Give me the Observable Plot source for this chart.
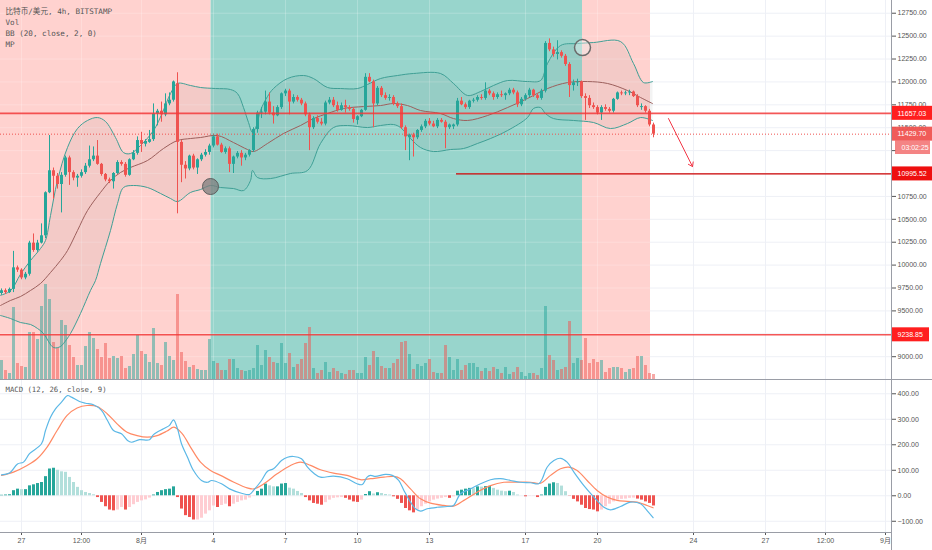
<!DOCTYPE html>
<html><head><meta charset="utf-8">
<script src="https://cdn.jsdelivr.net/npm/d3@7"></script>
<script src="https://cdn.jsdelivr.net/npm/@observablehq/plot@0.6"></script>
<style>
body{margin:0;background:#fff;width:932px;height:550px;overflow:hidden;position:relative;}
#main,#macd{position:absolute;left:0;}
#main{top:0}
#macd{top:379px}
.ln{position:absolute;background:#9a9da6}
</style></head><body>
<div id="main"></div><div id="macd"></div>
<div class="ln" style="left:0;top:379px;width:932px;height:1px"></div>
<div class="ln" style="left:0;top:532px;width:891px;height:1px"></div>
<div class="ln" style="left:891px;top:0;width:1px;height:550px"></div>
<script>
// ---------- data (4h candles, index 0 = 26 Jul 04:00) ----------
const ohlc = [
[9690,9740,9670,9720],[9720,9740,9680,9700],[9700,9750,9690,9735],[9735,10150,9700,9970],[9970,9990,9920,9945],
[9945,9960,9840,9860],[9860,9920,9840,9900],[9900,10260,9880,10240],[10240,10340,10140,10160],[10160,10270,10140,10240],
[10240,10450,10230,10320],[10320,10800,10290,10790],[10790,11415,10780,11030],[11030,11060,10720,10970],[10970,11000,10830,10880],
[10880,11010,10570,10980],[10980,11190,10960,11170],[11170,11190,10870,11010],[11010,11030,10920,10950],[10950,10990,10850,10970],
[10970,11040,10950,11010],[11010,11110,10990,11080],[11080,11300,11060,11150],[11150,11290,11130,11190],[11190,11360,11090,11100],
[11100,11110,10970,10990],[10990,11000,10910,10930],[10930,10950,10890,10910],[10910,11010,10830,11000],[11000,11140,10990,11120],
[11120,11140,11080,11100],[11100,11120,10960,10980],[10980,11160,10970,11150],[11150,11250,11140,11220],[11220,11400,11200,11360],
[11360,11450,11230,11320],[11320,11370,11290,11350],[11340,11470,11330,11370],[11370,11760,11350,11650],[11650,11700,11520,11680],
[11680,11780,11560,11640],[11640,11870,11620,11760],[11760,11880,11740,11800],[11800,12010,11780,12000],[11980,12100,10560,11340],
[11340,11360,10900,11090],[11090,11130,10940,11050],[11050,11200,11030,11190],[11190,11210,11040,11060],[11060,11160,10990,11150],
[11150,11220,11130,11200],[11200,11260,11180,11230],[11230,11320,11200,11300],[11300,11430,11280,11400],[11400,11430,11300,11310],
[11310,11330,11220,11230],[11230,11290,11210,11270],[11270,11290,11010,11100],[11100,11190,11000,11180],[11180,11240,11160,11220],
[11220,11250,11080,11170],[11170,11220,11140,11200],[11200,11260,11180,11250],[11250,11500,11230,11480],[11480,11680,11440,11660],
[11660,11720,11600,11670],[11670,11900,11640,11780],[11780,11880,11640,11660],[11660,11730,11540,11630],[11630,11740,11620,11720],
[11720,11880,11700,11870],[11870,11920,11840,11900],[11900,11920,11640,11780],[11780,11860,11760,11830],[11830,11850,11780,11800],
[11800,11820,11740,11760],[11760,11780,11620,11640],[11640,11660,11250,11500],[11500,11620,11480,11600],[11600,11630,11540,11560],
[11560,11600,11520,11540],[11540,11790,11520,11770],[11770,11830,11750,11800],[11800,11830,11720,11740],[11740,11780,11670,11690],
[11690,11770,11680,11740],[11740,11800,11660,11720],[11720,11740,11680,11700],[11700,11720,11550,11590],[11580,11630,11530,11620],
[11620,11700,11610,11690],[11690,12090,11680,12050],[12050,12090,11990,12000],[12000,12020,11500,11760],[11760,11950,11740,11930],
[11930,11950,11830,11850],[11850,11880,11800,11820],[11820,11860,11790,11830],[11830,11850,11740,11760],[11760,11780,11710,11730],
[11730,11760,11480,11500],[11500,11520,11250,11400],[11390,11430,11140,11420],[11420,11440,11180,11390],[11390,11480,11370,11470],
[11470,11530,11450,11510],[11510,11590,11490,11570],[11570,11600,11520,11540],[11540,11570,11500,11510],[11510,11600,11490,11580],
[11580,11600,11550,11560],[11560,11580,11270,11500],[11500,11540,11480,11530],[11510,11540,11480,11530],[11530,11820,11510,11790],
[11790,11830,11740,11750],[11750,11770,11700,11720],[11720,11800,11700,11790],[11790,11820,11770,11800],[11800,11850,11780,11830],
[11830,11860,11800,11820],[11820,11990,11800,11900],[11900,11920,11850,11870],[11870,11890,11800,11830],[11830,11880,11810,11860],
[11860,11900,11830,11850],[11850,11880,11800,11870],[11870,11930,11850,11910],[11910,11930,11860,11880],[11880,11900,11720,11750],
[11750,11830,11730,11810],[11810,11870,11790,11850],[11850,11930,11830,11910],[11910,11920,11830,11850],[11850,11870,11800,11820],
[11820,11920,11800,11900],[11900,12440,11880,12420],[12420,12470,12330,12350],[12350,12380,12270,12300],[12300,12450,12240,12320],
[12320,12340,12260,12280],[12280,12300,12170,12190],[12190,12210,11830,11960],[11960,12020,11900,11990],[11990,12030,11950,12000],
[12000,12010,11820,11840],[11840,11870,11580,11820],[11820,11850,11710,11740],[11740,11770,11700,11720],[11720,11740,11640,11660],
[11660,11740,11580,11720],[11720,11750,11680,11700],[11700,11720,11660,11680],[11680,11820,11660,11810],[11810,11890,11800,11880],
[11880,11900,11850,11870],[11870,11900,11850,11880],[11880,11910,11850,11890],[11890,11900,11830,11840],[11840,11860,11720,11740],
[11720,11760,11690,11730],[11730,11740,11660,11680],[11680,11700,11510,11530],[11530,11550,11390,11429.7]
];
const volumes = [19,9,6,72,16,13,12,47,47,40,73,95,80,37,31,59,54,34,22,14,14,33,47,41,30,22,36,21,23,21,23,11,13,25,44,28,25,17,51,16,14,37,23,19,85,27,18,12,14,10,9,9,40,18,16,9,9,20,20,11,9,8,9,11,34,14,29,22,17,16,36,16,26,12,15,20,36,52,11,6,9,17,7,11,8,6,5,9,9,6,6,22,14,28,22,13,11,11,16,20,37,38,25,10,15,13,16,20,7,6,6,34,22,9,20,9,14,16,16,12,8,11,8,12,10,6,12,5,7,12,7,3,6,6,4,11,73,24,19,9,10,12,58,16,21,19,41,16,20,17,19,7,11,12,12,11,7,10,11,23,23,14,6,5];
const histogram = [2,3,4,20,26,24,24,39,43,48,52,75,105,108,100,94,92,72,52,33,20,13,9,4,-7,-26,-43,-56,-59,-56,-46,-56,-46,-35,-26,-20,-16,-9,3,13,20,24,26,35,-7,-52,-78,-85,-95,-95,-88,-72,-59,-40,-46,-38,-33,-43,-33,-26,-20,-17,-9,-1,17,26,46,39,35,35,46,48,30,26,17,9,-7,-20,-30,-33,-37,-27,-17,-10,-8,-7,-10,-17,-24,-26,-17,5,16,7,12,9,5,3,-4,-14,-30,-50,-59,-67,-56,-43,-33,-24,-17,-13,-10,-7,-10,-4,18,22,26,29,28,35,34,36,37,29,22,18,16,18,13,3,0,-4,-1,-1,-7,3,33,46,51,48,38,16,-1,-14,-24,-37,-50,-54,-56,-63,-56,-43,-33,-24,-17,-14,-13,-10,-9,-13,-17,-24,-30,-40];
const macdLine = [[0,82],[2,89],[4,125],[5.5,132],[7,165],[10,204],[11,256],[12.25,308],[13.5,341],[15,367],[16.5,393],[17.5,387],[19.5,370],[21,363],[23,357],[25,335],[26.5,295],[28,256],[30,243],[31.5,217],[32.5,210],[34.5,220],[37,220],[38,240],[40.5,263],[42,276],[43,298],[44,263],[45,204],[46.5,151],[48,99],[50,60],[51.5,53],[52.5,60],[55,47],[57,27],[60,10],[62,5],[63,21],[65,60],[66.5,96],[68,106],[70,138],[71.5,151],[73,154],[75,145],[76.5,112],[78,89],[79.75,73],[83,77],[86.4,67],[88.9,47],[90.2,44],[91.4,73],[92.25,80],[93.5,76],[96,84],[97.7,80],[99.3,60],[100.6,21],[102.25,-25],[103.5,-51],[104.75,-60],[106.4,-51],[108.9,-45],[111.4,-42],[113,-38],[114.75,8],[117.25,27],[119.75,47],[122.25,63],[124.75,67],[127.25,60],[129.75,53],[132.25,51],[134.3,47],[135.2,67],[136.4,112],[138.1,138],[139.75,147],[141.4,132],[143.1,93],[145.6,40],[148.1,-5],[150.6,-45],[152.25,-55],[154.75,-42],[157.25,-25],[159.75,-31],[161.4,-58],[162.9,-86]];
const signalLine = [[0,80],[3,93],[6.4,119],[8.9,145],[11.4,191],[13.9,256],[16.4,315],[18.9,344],[21.4,354],[23.9,350],[26.4,322],[28.9,282],[31.4,249],[33.9,236],[36.4,230],[38.9,236],[41.4,254],[43.1,269],[45.2,243],[47.25,191],[49.75,132],[52.25,99],[54.75,80],[58.1,53],[61.4,31],[63.1,27],[65.6,47],[68.9,86],[72.25,119],[74.75,132],[77.25,119],[79.75,102],[83,89],[86.4,80],[89.75,63],[92.25,67],[95.6,73],[98.1,76],[99.75,67],[102.25,27],[104.75,-12],[107.25,-29],[110.6,-38],[113,-41],[115.6,-18],[118.9,14],[122.25,40],[125.6,53],[128.9,53],[132.25,53],[134.75,49],[137.25,80],[139.75,106],[141.8,112],[143.9,99],[146.4,60],[148.9,21],[151.4,-5],[153.9,-18],[156.4,-22],[158.9,-25],[161.4,-38],[162.9,-47]];
const bbUpper = [[-0.25,9670],[2.25,9720],[4.75,9900],[7.25,10050],[9.75,10181],[11,10269],[12.25,10541],[14,10924],[16.5,11284],[19,11491],[21.5,11579],[24,11611],[26,11568],[28.5,11393],[30.5,11229],[32.25,11218],[34.75,11306],[38,11469],[40.25,11666],[42.25,11873],[44,11983],[47.25,11961],[49.75,11939],[53.5,11928],[57.25,11917],[59,11873],[60.5,11720],[61.75,11557],[62.75,11448],[63.75,11524],[64.75,11688],[66.5,11841],[68,11928],[71.5,12037],[75.5,12070],[78,12037],[81.5,11939],[84.75,11928],[89,11928],[91.5,11972],[94.75,12037],[99,12070],[103,12092],[109.75,12092],[113,11983],[116.5,11852],[119.75,11895],[123,11961],[126.5,12015],[131.5,12004],[134.75,12015],[136.5,12201],[139.75,12397],[144,12419],[148,12430],[154.75,12441],[158,12201],[160.5,11993],[162.75,12004]];
const bbMiddle = [[-0.25,9559],[2.25,9614],[4.75,9657],[7.25,9723],[9.75,9799],[12.25,9919],[14.75,10050],[16.5,10159],[19,10378],[21.5,10596],[24.75,10793],[27.25,10924],[29.75,11011],[32.25,11066],[36.5,11142],[40.5,11273],[44,11360],[47.25,11382],[49.75,11393],[54,11415],[58,11338],[61.5,11262],[63,11240],[66.5,11328],[70.5,11437],[74.75,11524],[78,11600],[81.5,11655],[85.5,11710],[90.5,11731],[94.75,11742],[98,11764],[101.5,11742],[104.75,11688],[109.75,11655],[113,11600],[116.5,11579],[121.5,11633],[126.5,11720],[131.5,11819],[136.5,11928],[141.5,11993],[146.5,12004],[151.5,11983],[156.5,11906],[159.75,11830],[162.75,11764]];
const bbLower = [[-0.25,9450],[2.25,9417],[4.75,9373],[7.25,9352],[9,9308],[10.5,9253],[13,9100],[14.75,9111],[15.5,9144],[17.25,9253],[19.75,9472],[22.25,9723],[23.5,9832],[24.75,10017],[27.25,10378],[29,10672],[30.5,10847],[33,10869],[36.5,10847],[39.75,10782],[42.25,10727],[44,10694],[47.25,10793],[49.75,10825],[52.25,10869],[54.75,10847],[58,10836],[60.5,10814],[62.25,10924],[62.75,11033],[64,10956],[67.25,10945],[72.25,11000],[76.5,11033],[79.75,11328],[83,11502],[86.5,11524],[91.5,11502],[94.75,11524],[98,11535],[99.75,11502],[102.25,11382],[104.75,11284],[108,11240],[112.25,11262],[115.5,11273],[119,11328],[122.25,11382],[126.5,11469],[131.5,11611],[133,11710],[134.75,11720],[136,11655],[138,11600],[143,11579],[148,11557],[152.25,11491],[156.5,11546],[159.75,11611],[162.75,11579]];
const zoneFrom = [-0.25, 52.4, 145.25];
const zoneTo = [52.4, 145.25, 162.25];
const zoneKind = ["sell", "buy", "sell"];
const priceTicks = d3.range(9000, 12751, 250);
const hiddenPriceLabels = [9250, 11000, 11250]; // covered by price tags in the reference
const macdTicks = [-100, 0, 100, 200, 300, 400];
const dateTickIdx = [5, 20, 35, 53, 71, 89, 107, 131, 149, 173, 191, 206, 221];
const dateTickLabels = ["27", "12:00", "8月", "4", "7", "10", "13", "17", "20", "24", "27", "12:00", "9月"];
const levels = [11657.03, 9238.85];
const target = 10995.52, targetStart = 113.75;
const lastPrice = 11429.70, countdown = "03:02:25";
const arrowPath = {x1: 166.75, y1: 11600, x2: 172.75, y2: 11076};
const marker1 = {i: 52.25, p: 10858}, marker2 = {i: 145.25, p: 12375};
const legend = ["比特币/美元, 4h, BITSTAMP", "Vol", "BB (20, close, 2, 0)", "MP"];

// ---------- styles ----------
const UP = "#26a69a", DN = "#ef5350";
const ZONE = {sell: "#ffd2cf", buy: "#98d5cc"};
const X_DOMAIN = [-0.25, 222.5];
const Y_DOMAIN = [8751, 12889];
const VOL_K = 10.917;
const AXIS_FONT = "Liberation Sans, Arial, sans-serif";
const MONO = "DejaVu Sans Mono, Noto Sans CJK SC, monospace";

const candles = ohlc.map(([o, h, l, c], i) => ({i, o, h, l, c, v: volumes[i], col: c >= o ? UP : DN}));
const zones = zoneFrom.map((f, k) => ({from: f, to: zoneTo[k], fill: ZONE[zoneKind[k]]}));
const bbPoly = bbUpper.concat(bbLower.slice().reverse());
const hist = histogram.map((h, i) => {
  const prev = i > 0 ? histogram[i - 1] : h;
  const col = h >= 0 ? (h >= prev ? "#26a69a" : "#b2dfdb") : (h < prev ? "#ef5350" : "#ffcdd2");
  return {i, h, col};
});
const tags = [
  {p: 11657.03, label: "11657.03", fill: "#ff1f1f", op: 1, l: 0, r: -41},
  {p: lastPrice, label: lastPrice.toFixed(2), fill: "#ef5350", op: 0.95, l: 0, r: -41},
  {p: 11284, label: countdown, fill: "#f26e6e", op: 0.85, l: 4, r: -39},
  {p: target, label: target.toFixed(2), fill: "#ee0f0f", op: 1, l: 0, r: -41},
  {p: 9238.85, label: "9238.85", fill: "#ff1f1f", op: 1, l: 0, r: -38}
];
const tagMarks = tags.flatMap(t => [
  Plot.rect([t], {x1: X_DOMAIN[1], x2: X_DOMAIN[1], y1: "p", y2: "p", insetLeft: t.l, insetRight: t.r, insetTop: -7, insetBottom: -7, fill: t.fill, fillOpacity: t.op}),
  Plot.text([t], {x: X_DOMAIN[1], y: "p", text: "label", dx: 6 + t.l, textAnchor: "start", fill: "#ffffff", fontSize: 7, fontFamily: AXIS_FONT})
]);

const main = Plot.plot({
  width: 932, height: 379, marginLeft: 0, marginRight: 41, marginTop: 0, marginBottom: 0,
  x: {domain: X_DOMAIN, axis: null},
  y: {domain: Y_DOMAIN, axis: null},
  color: {type: "identity"},
  style: {background: "transparent", overflow: "visible", fontFamily: AXIS_FONT, fontSize: "7px"},
  marks: [
    Plot.ruleY(priceTicks, {stroke: "#eef0f6"}),
    Plot.ruleX(dateTickIdx, {stroke: "#eef0f6"}),
    Plot.rect(zones, {x1: "from", x2: "to", fill: "fill"}),
    Plot.ruleY(priceTicks, {x1: X_DOMAIN[0], x2: 162.25, stroke: "#ffffff", strokeOpacity: 0.22}),
    Plot.ruleX(dateTickIdx.filter(d => d < 162), {stroke: "#ffffff", strokeOpacity: 0.22}),
    Plot.ruleX(candles, {x: "i", y1: Y_DOMAIN[0], y2: d => Y_DOMAIN[0] + d.v * VOL_K, stroke: "col", strokeOpacity: 0.5, strokeWidth: 3}),
    Plot.line(bbPoly, {x: d => d[0], y: d => d[1], fill: "#8c8c8c", fillOpacity: 0.1, stroke: "none"}),
    Plot.line(bbUpper, {x: d => d[0], y: d => d[1], stroke: "#3f9f95", strokeWidth: 1, curve: "catmull-rom"}),
    Plot.line(bbLower, {x: d => d[0], y: d => d[1], stroke: "#3f9f95", strokeWidth: 1, curve: "catmull-rom"}),
    Plot.line(bbMiddle, {x: d => d[0], y: d => d[1], stroke: "#9c5f5c", strokeWidth: 1, curve: "catmull-rom"}),
    Plot.ruleX(candles, {x: "i", y1: "l", y2: "h", stroke: "col", strokeWidth: 1}),
    Plot.ruleX(candles, {x: "i", y1: "o", y2: "c", stroke: "col", strokeWidth: 3}),
    Plot.ruleY(levels, {stroke: "#f23a3a", strokeWidth: 1.6, strokeOpacity: 0.85}),
    Plot.ruleY([target], {x1: targetStart, x2: X_DOMAIN[1], stroke: "#cc0000", strokeWidth: 1.4}),
    Plot.ruleY([lastPrice], {stroke: "#ef5350", strokeDasharray: "1,2", strokeWidth: 1}),
    Plot.arrow([arrowPath], {x1: "x1", y1: "y1", x2: "x2", y2: "y2", stroke: "#f23645", strokeWidth: 1, headLength: 7, headAngle: 70}),
    Plot.dot([marker1], {x: "i", y: "p", r: 8, fill: "#7d7d7d", fillOpacity: 0.75, stroke: "#5e5e5e", strokeWidth: 1}),
    Plot.dot([marker2], {x: "i", y: "p", r: 8, fill: "#ffffff", fillOpacity: 0.35, stroke: "#6b6b6b", strokeWidth: 1.5}),
    Plot.axisY(priceTicks, {anchor: "right", label: null, tickSize: 4, tickPadding: 2, tickFormat: d => hiddenPriceLabels.includes(d) ? "" : d.toFixed(2), color: "#555", fontSize: 7, fontFamily: AXIS_FONT}),
    ...tagMarks,
    Plot.text([legend.join("\n")], {frameAnchor: "top-left", dx: 5, dy: 6, lineHeight: 1.42, fill: "#555", fontSize: 7.6, fontFamily: MONO})
  ]
});
document.getElementById("main").append(main);

const macd = Plot.plot({
  width: 932, height: 171, marginLeft: 0, marginRight: 41, marginTop: 0, marginBottom: 18,
  x: {domain: X_DOMAIN, axis: null},
  y: {domain: [-144, 456], axis: null},
  color: {type: "identity"},
  style: {background: "transparent", overflow: "visible", fontFamily: AXIS_FONT, fontSize: "7px"},
  marks: [
    Plot.ruleY(macdTicks, {stroke: "#eef0f6"}),
    Plot.ruleX(dateTickIdx, {stroke: "#eef0f6"}),
    Plot.ruleX(hist, {x: "i", y1: 0, y2: "h", stroke: "col", strokeWidth: 3}),
    Plot.line(signalLine, {x: d => d[0], y: d => d[1], stroke: "#ff8a65", strokeWidth: 1.2, curve: "catmull-rom"}),
    Plot.line(macdLine, {x: d => d[0], y: d => d[1], stroke: "#5cb8e6", strokeWidth: 1.2, curve: "catmull-rom"}),
    Plot.axisY(macdTicks, {anchor: "right", label: null, tickSize: 4, tickPadding: 2, tickFormat: d => (d < 0 ? "−" : "") + Math.abs(d).toFixed(2), color: "#555", fontSize: 7, fontFamily: AXIS_FONT}),
    Plot.axisX(dateTickIdx, {anchor: "bottom", label: null, tickSize: 3, tickPadding: 3, tickFormat: d => dateTickLabels[dateTickIdx.indexOf(d)], color: "#555", fontSize: 7, fontFamily: AXIS_FONT + ", Noto Sans CJK SC"}),
    Plot.text(["MACD (12, 26, close, 9)"], {frameAnchor: "top-left", dx: 5, dy: 7, fill: "#555", fontSize: 7.3, fontFamily: MONO})
  ]
});
document.getElementById("macd").append(macd);
</script></body></html>
